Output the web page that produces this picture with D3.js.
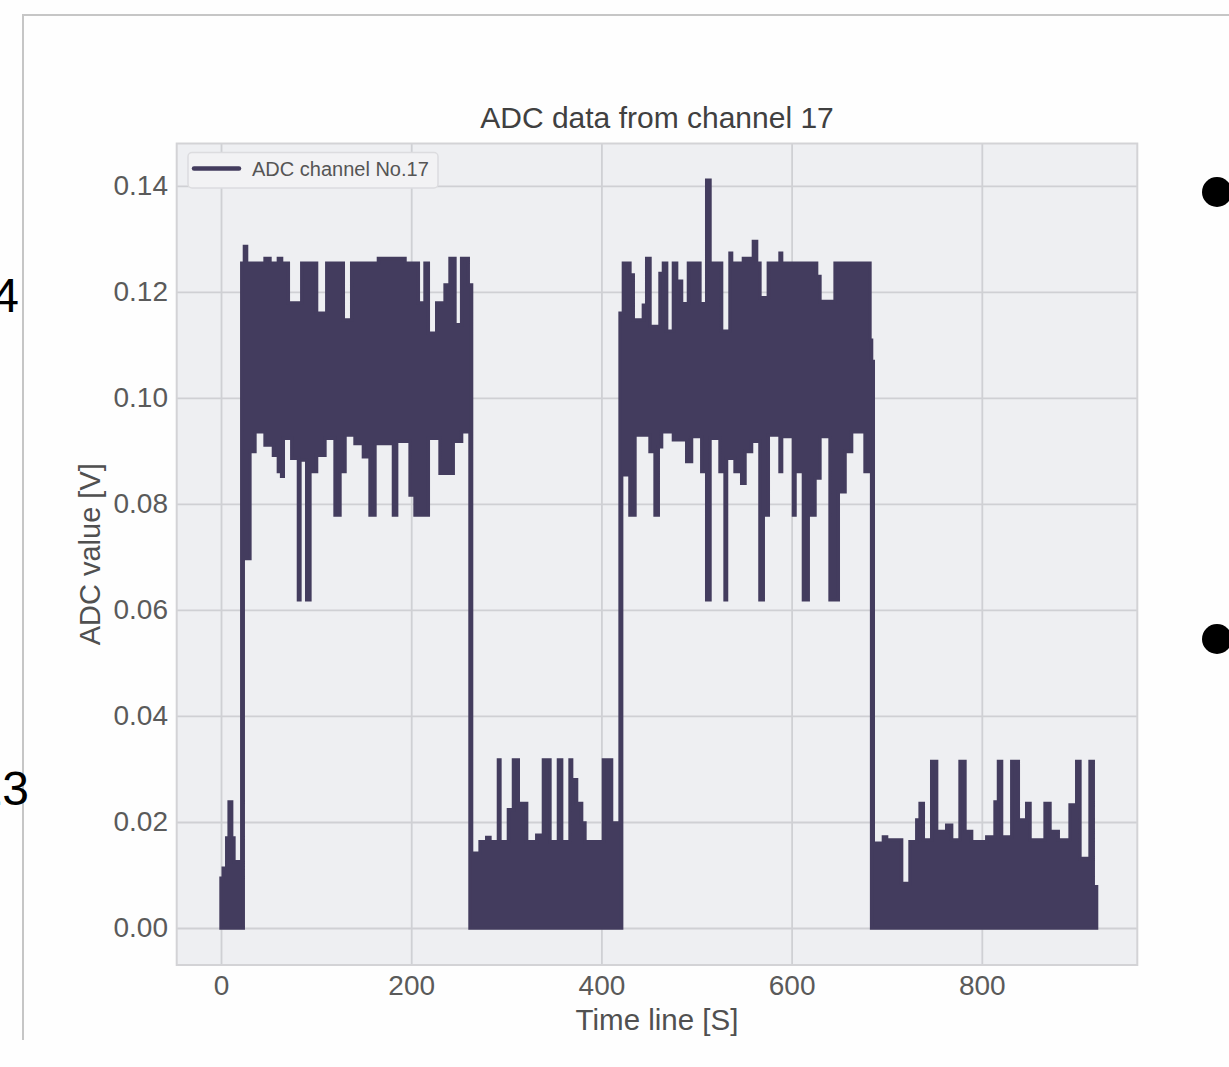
<!DOCTYPE html>
<html><head><meta charset="utf-8">
<script src="https://cdn.jsdelivr.net/npm/d3@7"></script>
<style>body{margin:0;background:#fefefe} svg{display:block}</style>
</head><body><svg id="c" width="1229" height="1067"></svg>
<script>
// ---- data: envelope of the ADC trace, [time (s), low (V), high (V)], each row holds until the next ----
const idle1 = [
  [0,0,0.0094],[2.3,0,0.0113],[6,0,0.017],[8.5,0,0.0238],[11.2,0,0.017],[13.6,0,0.0125]
];
const active1 = [
  [21.8,0,0.1254],[23.4,0.0697,0.1254],[24.6,0.0697,0.1286],[26.9,0.0697,0.1254],[30.4,0.0899,0.1254],
  [35.7,0.0936,0.1254],[46.3,0.0911,0.1263],[51.5,0.0911,0.1254],[55.1,0.0892,0.1254],[60.3,0.0861,0.1263],
  [63.7,0.0852,0.1254],[65.5,0.0924,0.1254],[70.8,0.0924,0.1179],[74.4,0.0886,0.1179],[81.4,0.0619,0.1179],
  [83,0.0883,0.1179],[84.9,0.0883,0.1254],[90.1,0.0619,0.1254],[93.5,0.0861,0.1254],[100.5,0.0892,0.116],
  [109.3,0.0924,0.116],[111.2,0.0924,0.1254],[119.9,0.0779,0.1254],[125.1,0.0861,0.1254],[128.6,0.0861,0.1147],
  [130.4,0.093,0.1147],[137.4,0.093,0.1254],[140.9,0.0914,0.1254],[149.7,0.0889,0.1254],[156.7,0.0779,0.1254],
  [161.9,0.0914,0.1254],[165.5,0.0914,0.1263],[181.3,0.0779,0.1263],[184.7,0.0918,0.1263],[193.5,0.0918,0.1254],
  [198.8,0.0817,0.1254],[204,0.0779,0.1254],[207.5,0.0779,0.1179],[214.5,0.0779,0.1254],[218,0.0924,0.1122],
  [226.8,0.0924,0.1179],[230.3,0.0858,0.1179],[235.6,0.0858,0.1213],[240.8,0.0858,0.1263],[244.2,0.0918,0.1263],
  [246,0.0918,0.1138],[253,0.0936,0.1263],[260,0.0936,0.1213],[261.8,0,0.1213]
];
const idle2 = [
  [263.5,0,0.0141],[272.4,0,0.0163],[279.4,0,0.0171],[282.8,0,0.0163],[291.7,0,0.0317],[293.3,0,0.0163],
  [302.2,0,0.0223],[307.5,0,0.0317],[312.6,0,0.0235],[321.4,0,0.0163],[332,0,0.0175],[339,0,0.0317],
  [345.9,0,0.0163],[354.8,0,0.0317],[358.2,0,0.0163],[367,0,0.0317],[368.7,0,0.028],[373.9,0,0.0235],
  [379.2,0,0.0198],[382.7,0,0.0163],[402.1,0,0.0317],[410.7,0,0.0198]
];
const active2 = [
  [419.6,0,0.116],[421.3,0.0855,0.116],[423.1,0.0855,0.1254],[430,0.0779,0.1232],[433.5,0.0779,0.1147],
  [435.3,0.093,0.1147],[444.1,0.093,0.1175],[447.6,0.093,0.1263],[451.1,0.0899,0.1135],[456.4,0.0779,0.1135],
  [459.8,0.0908,0.1135],[461.6,0.0908,0.1235],[463.3,0.0936,0.1235],[465.2,0.0936,0.1254],[468.6,0.0936,0.1126],
  [475.7,0.0921,0.1254],[479.1,0.0921,0.122],[484.3,0.0921,0.1178],[489.7,0.088,0.1178],[491.5,0.088,0.1254],
  [494.8,0.0927,0.1254],[503.6,0.0927,0.1178],[505.5,0.0861,0.1178],[510.7,0.0619,0.1411],[514.2,0.0924,0.1254],
  [524.7,0.0861,0.1254],[526.4,0.0861,0.1126],[530,0.0619,0.1126],[531.6,0.0886,0.1126],[535.2,0.0886,0.1273],
  [536.9,0.0886,0.1254],[540.5,0.0861,0.1254],[547.5,0.0839,0.1254],[549.3,0.0839,0.1263],[551,0.0899,0.1263],
  [557.9,0.0918,0.1263],[559.8,0.0918,0.1295],[563.2,0.0918,0.1254],[566.7,0.0619,0.1189],[570.2,0.0779,0.1189],
  [575.5,0.093,0.1254],[587.8,0.0861,0.1273],[589.5,0.0927,0.1254],[601.9,0.0779,0.1254],[603.6,0.0861,0.1254],
  [612.4,0.0619,0.1254],[617.5,0.0779,0.1254],[624.6,0.0849,0.1254],[626.3,0.0849,0.1229],[629.8,0.0927,0.1182],
  [640.4,0.0619,0.1182],[645.7,0.0619,0.1254],[649.1,0.0823,0.1254],[656.2,0.0899,0.1254],[663.1,0.0936,0.1254],
  [677.2,0.0861,0.1254],[682.4,0.0861,0.1109],[684.1,0,0.1069]
];
const idle3 = [
  [685.9,0,0.016],[696.5,0,0.0172],[699.9,0,0.0166],[715.7,0,0.0084],[724.5,0,0.0163],[731.6,0,0.0204],
  [735.1,0,0.0235],[738.5,0,0.0166],[747.3,0,0.0314],[752.5,0,0.0182],[763.1,0,0.0194],[768.3,0,0.0166],
  [777.1,0,0.0314],[782.3,0,0.0182],[789.3,0,0.0163],[805.2,0,0.0172],[813.9,0,0.0238],[817.5,0,0.0314],
  [820.8,0,0.0172],[831.5,0,0.0314],[838.4,0,0.0204],[847.2,0,0.0235],[850.7,0,0.0166],[866.5,0,0.0235],
  [871.7,0,0.0182],[880.4,0,0.0166],[892.8,0,0.0232],[899.8,0,0.0314],[903.2,0,0.0131],[913.8,0,0.0314],
  [917.2,0,0.0078],[920.7,0,0.0078]
];
const xTicks = [0, 200, 400, 600, 800];
const yTicks = [0, 0.02, 0.04, 0.06, 0.08, 0.10, 0.12, 0.14];
const chartTitle = "ADC data from channel 17";
const xLabel = "Time line [S]";
const yLabel = "ADC value [V]";
const legendLabel = "ADC channel No.17";
const slideFragments = ["4", "13"];

// ---- drawing ----
const FONT = "'Liberation Sans', Arial, sans-serif";
const col = "#433c5e";
const svg = d3.select("#c");
svg.append("rect").attr("width",1229).attr("height",1067).attr("fill","#fefefe");

// slide frame
svg.append("path").attr("d","M23,1040 V15 H1229").attr("fill","none")
  .attr("stroke","#c6c6c6").attr("stroke-width",2);

const L = 176.7, R = 1137.3, T = 143.5, B = 965;
const x = d3.scaleLinear().domain([-46.6, 963.5]).range([L, R]);
const y = d3.scaleLinear().domain([-0.00698, 0.148]).range([B, T]);

svg.append("rect").attr("x",L).attr("y",T).attr("width",R-L).attr("height",B-T)
  .attr("fill","#eeeff2");

// grid + tick labels
const gx = svg.append("g").attr("transform",`translate(0,${B})`)
  .call(d3.axisBottom(x).tickValues(xTicks).tickSize(-(B-T)).tickPadding(10).tickFormat(d3.format("d")));
const gy = svg.append("g").attr("transform",`translate(${L},0)`)
  .call(d3.axisLeft(y).tickValues(yTicks).tickSize(-(R-L)).tickPadding(8.7).tickFormat(d3.format(".2f")));
[gx, gy].forEach(g => {
  g.select(".domain").remove();
  g.selectAll(".tick line").attr("stroke","#cfd0d4").attr("stroke-width",1.8);
  g.selectAll(".tick text").attr("fill","#5a5a5a").style("font-family",FONT).style("font-size","28px");
});

svg.append("rect").attr("x",L).attr("y",T).attr("width",R-L).attr("height",B-T)
  .attr("fill","none").attr("stroke","#d3d3d6").attr("stroke-width",2);

// data envelope
const series = [...idle1, ...active1, ...idle2, ...active2, ...idle3];
const area = d3.area().curve(d3.curveStepAfter)
  .x(d => x(d[0])).y0(d => y(d[1])).y1(d => y(d[2]));
svg.append("path").datum(series).attr("d", area)
  .attr("fill", col).attr("stroke", col).attr("stroke-width", 3.4).attr("stroke-linejoin","miter");

// legend
const lg = svg.append("g");
lg.append("rect").attr("x",188).attr("y",152.5).attr("width",250).attr("height",35.5).attr("rx",4)
  .attr("fill","#f2f2f4").attr("stroke","#dcdcdf").attr("stroke-width",1.5);
lg.append("line").attr("x1",194).attr("x2",239).attr("y1",168.5).attr("y2",168.5)
  .attr("stroke",col).attr("stroke-width",4.5).attr("stroke-linecap","round");
lg.append("text").attr("x",252).attr("y",175.5).text(legendLabel)
  .attr("fill","#555").style("font-family",FONT).style("font-size","20px");

// titles
svg.append("text").attr("x",(L+R)/2).attr("y",128).attr("text-anchor","middle").text(chartTitle)
  .attr("fill","#404040").style("font-family",FONT).style("font-size","30px");
svg.append("text").attr("x",(L+R)/2).attr("y",1030).attr("text-anchor","middle").text(xLabel)
  .attr("fill","#505050").style("font-family",FONT).style("font-size","29.5px");
svg.append("text").attr("transform",`translate(100,${(T+B)/2}) rotate(-90)`).attr("text-anchor","middle").text(yLabel)
  .attr("fill","#505050").style("font-family",FONT).style("font-size","29px");

// slide fragments
svg.append("text").attr("x",19).attr("y",312).attr("text-anchor","end").text(slideFragments[0])
  .attr("fill","#000").style("font-family",FONT).style("font-size","48px");
svg.append("text").attr("x",29).attr("y",805).attr("text-anchor","end").text(slideFragments[1])
  .attr("fill","#000").style("font-family",FONT).style("font-size","48px");
svg.append("circle").attr("cx",1217).attr("cy",192).attr("r",15).attr("fill","#000");
svg.append("circle").attr("cx",1217).attr("cy",639).attr("r",15).attr("fill","#000");
</script>
</body></html>
